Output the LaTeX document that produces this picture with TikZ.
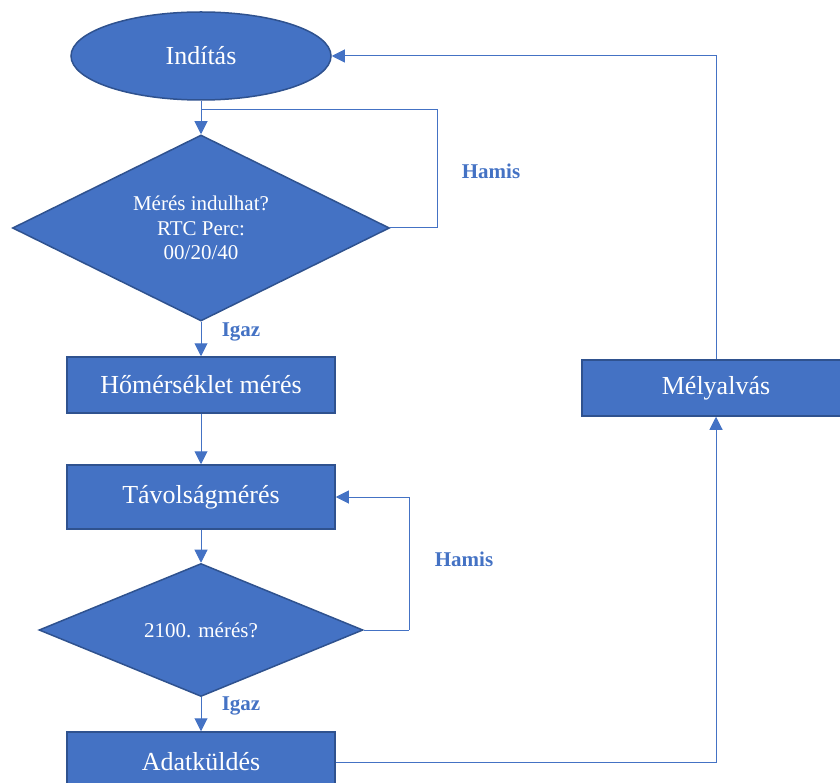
\documentclass[tikz,border=0pt]{standalone}
\usepackage{fontspec}
\setmainfont{Liberation Serif}
\usetikzlibrary{positioning,arrows.meta,shapes.geometric}
\definecolor{fcBlue}{RGB}{68,114,196}
\definecolor{fcEdge}{RGB}{47,82,143}
\tikzset{
    base/.style={font=\fontsize{26}{31}\selectfont, align=center, text=white,
                 fill=fcBlue, draw=fcEdge, line width=1.5pt, inner sep=2pt},
    terminal/.style={base, ellipse, minimum width=260pt, minimum height=88pt},
    process/.style={base, rectangle, minimum width=268pt, minimum height=56pt},
    decision/.style={base, diamond, shape aspect=2, inner sep=0pt,
                     font=\fontsize{21}{24.5}\selectfont},
    flow/.style={-{Triangle[length=13pt,width=13pt]}, line width=1pt, color=fcBlue},
    link/.style={line width=1pt, color=fcBlue},
    answer/.style={font=\fontsize{21}{24}\selectfont\bfseries, text=fcBlue}
}

\begin{document}
\begin{tikzpicture}[x=1pt, y=-1pt]
  \useasboundingbox (0,0) rectangle (840,783);
  % Main column
  \node[terminal] (start) at (201,56) {Indítás};
  \node[decision, minimum width=377pt, minimum height=186pt] (check) at (201,228)
       {Mérés indulhat?\\RTC Perc:\\00/20/40};
  \node[process] (temp) at (201,385) {Hőmérséklet mérés};
  \node[process, minimum height=64pt] (dist) at (201,497) {Távolságmérés};
  \node[decision, minimum width=324pt, minimum height=133pt] (count) at (201,630) {2100. mérés?};
  \node[process, minimum height=60pt] (send) at (201,762) {Adatküldés};

  % Sleep branch
  \node[process] (sleep) at (716,388) {Mélyalvás};

  \coordinate (join) at (201,110);
  \coordinate (back1) at (437,110);
  \coordinate (back2) at (409,630);

  \draw[flow] (start) -- (check);
  \draw[link] (check.east) -| (back1) -- (join);
  \draw[flow] (check) -- (temp);
  \draw[flow] (temp) -- (dist);
  \draw[flow] (dist) -- (count);
  \draw[link] (count.east) -- (back2);
  \draw[flow] (back2) |- (dist.east);
  \draw[flow] (count) -- (send);
  \draw[flow] (send.east) -| (sleep.south);
  \draw[flow] (sleep.north) |- (start.east);

  \node[answer] (no1) at (491,171) {Hamis};
  \node[answer] (yes1) at (241,332) {Igaz};
  \node[answer] (no2) at (464,559) {Hamis};
  \node[answer] (yes2) at (241,706) {Igaz};
\end{tikzpicture}
\end{document}
